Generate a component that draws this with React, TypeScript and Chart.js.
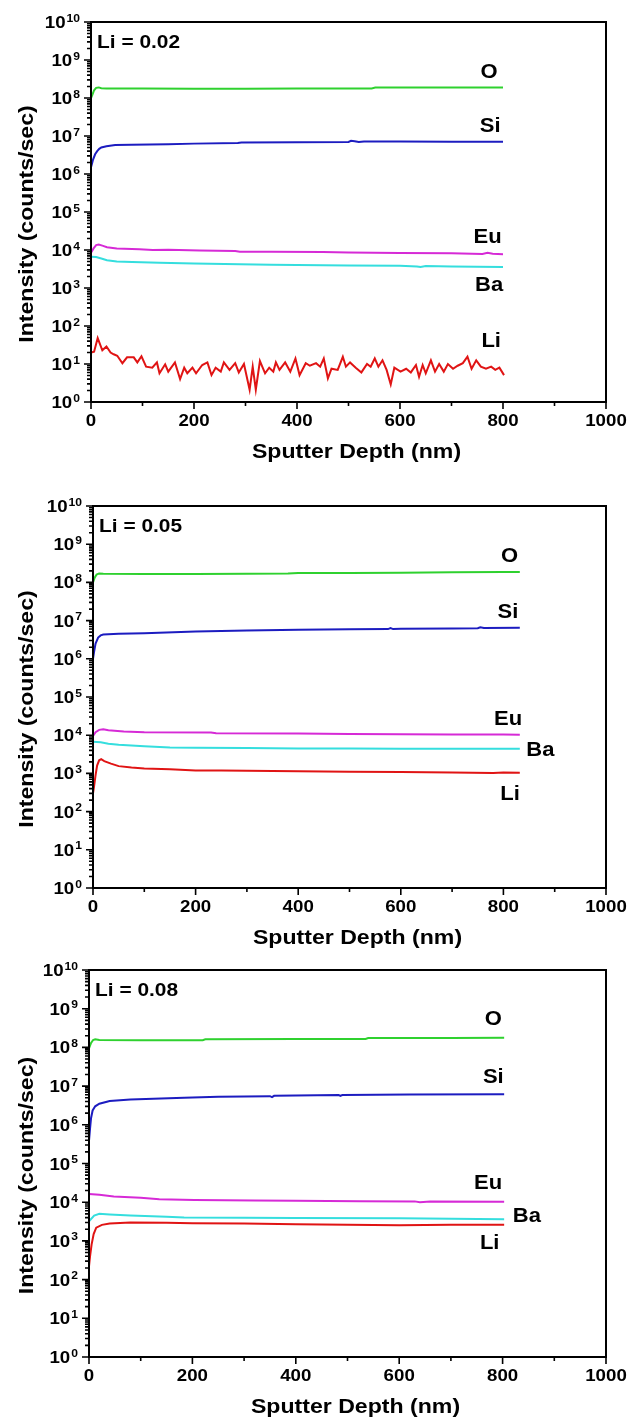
import React, { useEffect, useRef } from 'react';
import { Chart, registerables } from 'chart.js';

Chart.register(...registerables);

type Pt = [number, number];

// ---------- Panel 1 (Li = 0.02) ----------
const p1O: Pt[] = [[0,1.0e8],[3,1.25e8],[6,1.6e8],[10,1.85e8],[15,1.9e8],[20,1.8e8],[30,1.77e8],[100,1.77e8],[200,1.76e8],[300,1.76e8],[400,1.77e8],[500,1.77e8],[545,1.78e8],[552,1.88e8],[600,1.88e8],[700,1.89e8],[800,1.9e8]];
const p1Si: Pt[] = [[0,1.5e6],[2,1.9e6],[4,2.4e6],[8,3.3e6],[12,4.0e6],[16,4.6e6],[20,5.0e6],[30,5.4e6],[47,5.8e6],[78,5.9e6],[150,6.1e6],[200,6.3e6],[285,6.5e6],[292,6.7e6],[400,6.8e6],[500,7.0e6],[505,7.5e6],[512,7.3e6],[520,7.0e6],[530,7.2e6],[600,7.2e6],[700,7.1e6],[800,7.1e6]];
const p1Eu: Pt[] = [[0,8.5e3],[5,1.1e4],[10,1.35e4],[15,1.4e4],[22,1.3e4],[31,1.18e4],[50,1.1e4],[94,1.05e4],[120,1.0e4],[150,1.02e4],[211,9.7e3],[280,9.4e3],[289,9.0e3],[350,9.0e3],[450,8.8e3],[500,8.6e3],[600,8.4e3],[700,8.2e3],[760,7.9e3],[770,8.4e3],[780,8.0e3],[800,7.7e3]];
const p1Ba: Pt[] = [[0,6.6e3],[10,6.5e3],[20,6.0e3],[31,5.4e3],[50,5.0e3],[80,4.8e3],[133,4.6e3],[200,4.4e3],[289,4.2e3],[350,4.1e3],[400,4.0e3],[500,3.9e3],[600,3.85e3],[633,3.7e3],[640,3.55e3],[650,3.8e3],[700,3.7e3],[800,3.55e3]];
const p1Li: Pt[] = [[0,20],[6,21],[13,48],[22,23],[30,29],[38,20],[44,18],[51,16.5],[61,10.5],[70,15],[83,15],[90,11],[98,16],[107,8.5],[119,8],[128,11],[133,5.7],[144,9.8],[150,6.3],[163,11],[173,4],[181,8],[187,5.7],[197,8],[204,5.7],[216,9.4],[226,11],[234,5.1],[242,8],[252,6.3],[258,11],[269,7],[280,10.5],[287,6],[297,10],[308,2.1],[314,8.5],[320,2.1],[328,12],[338,5.7],[346,8],[354,6.3],[359,11],[366,7],[377,11],[387,6.3],[397,14],[405,5.1],[417,10.5],[425,9],[437,10.5],[445,8.5],[452,14],[460,4.2],[467,7.5],[479,7],[489,15.5],[495,8.5],[503,11],[514,8],[525,6],[536,10],[543,8.5],[551,14],[558,8.5],[566,12.5],[574,7],[582,2.9],[589,8],[601,6.3],[612,7.5],[621,6],[631,9.4],[637,4.6],[644,9.4],[650,5.7],[660,12.5],[668,6.3],[676,10],[685,6.3],[693,10],[703,7.5],[712,9],[722,10.5],[731,15.5],[739,7.5],[748,12.5],[757,8.5],[767,7.5],[777,8.5],[785,7],[793,8],[802,5.1]];

// ---------- Panel 2 (Li = 0.05) ----------
const p2O: Pt[] = [[0,1.0e8],[3,1.3e8],[7,1.6e8],[12,1.72e8],[20,1.68e8],[100,1.65e8],[200,1.66e8],[300,1.68e8],[380,1.7e8],[400,1.75e8],[500,1.77e8],[600,1.8e8],[700,1.83e8],[800,1.86e8],[832,1.88e8]];
const p2Si: Pt[] = [[0,1.0e6],[2,1.5e6],[5,2.5e6],[10,3.6e6],[15,4.1e6],[20,4.3e6],[50,4.5e6],[100,4.7e6],[200,5.2e6],[300,5.5e6],[400,5.8e6],[500,5.9e6],[575,6.0e6],[580,6.4e6],[585,6.0e6],[600,6.1e6],[700,6.2e6],[750,6.3e6],[755,6.7e6],[762,6.4e6],[832,6.5e6]];
const p2Eu: Pt[] = [[0,9.5e3],[5,1.2e4],[12,1.38e4],[20,1.43e4],[30,1.35e4],[60,1.25e4],[100,1.2e4],[230,1.18e4],[240,1.12e4],[400,1.1e4],[500,1.08e4],[600,1.06e4],[700,1.05e4],[800,1.04e4],[832,1.03e4]];
const p2Ba: Pt[] = [[0,6.7e3],[15,6.5e3],[30,6.0e3],[50,5.6e3],[100,5.1e3],[150,4.8e3],[200,4.7e3],[300,4.6e3],[400,4.5e3],[500,4.5e3],[600,4.4e3],[700,4.4e3],[832,4.4e3]];
const p2Li: Pt[] = [[0,3.0e2],[2,4.5e2],[5,9.0e2],[8,1.6e3],[12,2.2e3],[16,2.35e3],[22,2.1e3],[35,1.8e3],[50,1.55e3],[75,1.42e3],[100,1.35e3],[150,1.28e3],[200,1.2e3],[250,1.2e3],[300,1.17e3],[400,1.13e3],[500,1.1e3],[600,1.08e3],[700,1.06e3],[780,1.02e3],[800,1.05e3],[832,1.04e3]];

// ---------- Panel 3 (Li = 0.08) ----------
const p3O: Pt[] = [[0,0.95e8],[4,1.3e8],[8,1.55e8],[12,1.62e8],[20,1.55e8],[100,1.52e8],[220,1.53e8],[225,1.62e8],[400,1.64e8],[535,1.65e8],[540,1.75e8],[700,1.76e8],[803,1.77e8]];
const p3Si: Pt[] = [[0,3.9e5],[2,8e5],[4,1.5e6],[7,2.35e6],[12,3.0e6],[20,3.5e6],[40,4.1e6],[80,4.5e6],[184,5.0e6],[250,5.3e6],[350,5.5e6],[354,5.2e6],[358,5.6e6],[483,5.9e6],[486,5.6e6],[490,5.9e6],[620,6.1e6],[803,6.2e6]];
const p3Eu: Pt[] = [[0,1.64e4],[20,1.55e4],[48,1.4e4],[100,1.3e4],[136,1.2e4],[204,1.14e4],[320,1.1e4],[400,1.09e4],[524,1.06e4],[630,1.05e4],[640,1.0e4],[660,1.04e4],[803,1.02e4]];
const p3Ba: Pt[] = [[0,3.2e3],[10,4.5e3],[20,5.0e3],[40,4.8e3],[80,4.5e3],[150,4.2e3],[184,4.0e3],[300,3.95e3],[400,3.9e3],[600,3.85e3],[803,3.6e3]];
const p3Li: Pt[] = [[0,2.2e2],[2,4e2],[5,8e2],[9,1.5e3],[14,2.2e3],[25,2.6e3],[40,2.8e3],[80,3.0e3],[150,2.95e3],[200,2.85e3],[300,2.8e3],[400,2.7e3],[500,2.6e3],[600,2.55e3],[700,2.6e3],[803,2.6e3]];

// ---------- Shared text / ticks ----------
const seriesNames = ['O', 'Si', 'Eu', 'Ba', 'Li'];
const seriesColors = ['#2fd12f', '#1c1cc0', '#d62ad6', '#35dede', '#e01414'];
const panelTitles = ['Li = 0.02', 'Li = 0.05', 'Li = 0.08'];
const xTickValues = [0, 200, 400, 600, 800, 1000];
const xMinorValues = [100, 300, 500, 700, 900];
const yExponents = [0, 1, 2, 3, 4, 5, 6, 7, 8, 9, 10];
const xTitle = 'Sputter Depth (nm)';
const yTitle = 'Intensity (counts/sec)';

// series label anchors (depth, intensity) per panel, order O, Si, Eu, Ba, Li
const p1LabelX = [773, 775, 770, 773, 777];
const p1LabelY = [4.7e8, 1.8e7, 2.2e4, 1.15e3, 39];
const p2LabelX = [812, 809, 809, 872, 813];
const p2LabelY = [4.7e8, 1.6e7, 2.6e4, 3.9e3, 2.8e2];
const p3LabelX = [782, 782, 772, 847, 775];
const p3LabelY = [5.2e8, 1.66e7, 3.1e4, 4.3e3, 8.5e2];

const panels = [
  { series: [p1O, p1Si, p1Eu, p1Ba, p1Li], lx: p1LabelX, ly: p1LabelY, title: panelTitles[0], top: 0, height: 470, pad: { left: 91, right: 23, top: 22, bottom: 68 } },
  { series: [p2O, p2Si, p2Eu, p2Ba, p2Li], lx: p2LabelX, ly: p2LabelY, title: panelTitles[1], top: 470, height: 480, pad: { left: 93, right: 23, top: 36, bottom: 62 } },
  { series: [p3O, p3Si, p3Eu, p3Ba, p3Li], lx: p3LabelX, ly: p3LabelY, title: panelTitles[2], top: 950, height: 470, pad: { left: 89, right: 23, top: 20, bottom: 63 } },
];

const FONT = '"Liberation Sans", Arial, sans-serif';
const SX = 1.1;

function stretchText(ctx: CanvasRenderingContext2D, text: string, x: number, y: number, align: 'left' | 'center' | 'right') {
  const w = ctx.measureText(text).width * SX;
  let x0 = x;
  if (align === 'center') x0 = x - w / 2;
  else if (align === 'right') x0 = x - w;
  ctx.save();
  ctx.translate(x0, y);
  ctx.scale(SX, 1);
  ctx.textAlign = 'left';
  ctx.fillText(text, 0, 0);
  ctx.restore();
  return w;
}

const simsPlugin = {
  id: 'simsDecor',
  afterDraw(chart: any) {
    const { ctx, chartArea: a, scales } = chart;
    const x = scales.x;
    const y = scales.y;
    const cfg = chart.options.plugins.simsDecor;
    ctx.save();
    ctx.fillStyle = '#000';
    ctx.strokeStyle = '#000';
    // frame
    ctx.lineWidth = 2;
    ctx.strokeRect(a.left, a.top, a.right - a.left, a.bottom - a.top);
    // y ticks
    ctx.lineWidth = 1.6;
    ctx.beginPath();
    yExponents.forEach((e) => {
      const py = y.getPixelForValue(Math.pow(10, e));
      ctx.moveTo(a.left - 7, py);
      ctx.lineTo(a.left, py);
      if (e < 10) {
        for (let m = 2; m <= 9; m++) {
          const pm = y.getPixelForValue(m * Math.pow(10, e));
          ctx.moveTo(a.left - 4, pm);
          ctx.lineTo(a.left, pm);
        }
      }
    });
    // x ticks
    xTickValues.forEach((v) => {
      const px = x.getPixelForValue(v);
      ctx.moveTo(px, a.bottom);
      ctx.lineTo(px, a.bottom + 7);
    });
    xMinorValues.forEach((v) => {
      const px = x.getPixelForValue(v);
      ctx.moveTo(px, a.bottom);
      ctx.lineTo(px, a.bottom + 4);
    });
    ctx.stroke();

    ctx.textBaseline = 'alphabetic';
    // y tick labels 10^n
    yExponents.forEach((e) => {
      const py = y.getPixelForValue(Math.pow(10, e));
      ctx.font = `bold 11px ${FONT}`;
      const sup = String(e);
      const wSup = ctx.measureText(sup).width * SX;
      ctx.font = `bold 17px ${FONT}`;
      const w10 = ctx.measureText('10').width * SX;
      const right = a.left - 11;
      const x0 = right - wSup - 1 - w10;
      stretchText(ctx, '10', x0, py + 6, 'left');
      ctx.font = `bold 11px ${FONT}`;
      stretchText(ctx, sup, x0 + w10 + 1, py - 0.5, 'left');
    });
    // x tick labels
    ctx.font = `bold 17px ${FONT}`;
    ctx.textBaseline = 'middle';
    xTickValues.forEach((v) => {
      stretchText(ctx, String(v), x.getPixelForValue(v), a.bottom + 19, 'center');
    });
    // x title
    ctx.font = `bold 21px ${FONT}`;
    stretchText(ctx, xTitle, (a.left + a.right) / 2 + 8, a.bottom + 50, 'center');
    // y title
    ctx.save();
    ctx.translate(27, (a.top + a.bottom) / 2 + 12);
    ctx.rotate(-Math.PI / 2);
    stretchText(ctx, yTitle, 0, 0, 'center');
    ctx.restore();
    // panel title
    ctx.font = `bold 19px ${FONT}`;
    stretchText(ctx, cfg.title, a.left + 6, a.top + 21, 'left');
    // series labels
    ctx.font = `bold 20px ${FONT}`;
    seriesNames.forEach((n, i) => {
      stretchText(ctx, n, x.getPixelForValue(cfg.lx[i]), y.getPixelForValue(cfg.ly[i]), 'center');
    });
    ctx.restore();
  },
};

function Panel({ idx }: { idx: number }) {
  const ref = useRef<HTMLCanvasElement>(null);
  const p = panels[idx];
  useEffect(() => {
    if (!ref.current) return;
    const chart = new Chart(ref.current, {
      type: 'line',
      data: {
        datasets: p.series.map((s, i) => ({
          label: seriesNames[i],
          data: s.map(([d, v]) => ({ x: d, y: v })),
          borderColor: seriesColors[i],
          backgroundColor: seriesColors[i],
          borderWidth: 2,
          pointRadius: 0,
          tension: 0,
          fill: false,
        })),
      },
      options: {
        animation: false,
        responsive: false,
        devicePixelRatio: 1,
        layout: { padding: p.pad },
        scales: {
          x: { type: 'linear', min: 0, max: 1000, display: false },
          y: { type: 'logarithmic', min: 1, max: 1e10, display: false },
        },
        plugins: {
          legend: { display: false },
          tooltip: { enabled: false },
          simsDecor: { title: p.title, lx: p.lx, ly: p.ly },
        } as any,
      },
      plugins: [simsPlugin],
    });
    return () => chart.destroy();
  }, []);
  return (
    <canvas
      ref={ref}
      width={629}
      height={p.height}
      style={{ position: 'absolute', left: 0, top: p.top, width: 629, height: p.height, display: 'block' }}
    />
  );
}

export default function App() {
  return (
    <div style={{ position: 'absolute', left: 0, top: 0, width: 629, height: 1420, background: '#fff' }}>
      <Panel idx={0} />
      <Panel idx={1} />
      <Panel idx={2} />
    </div>
  );
}
